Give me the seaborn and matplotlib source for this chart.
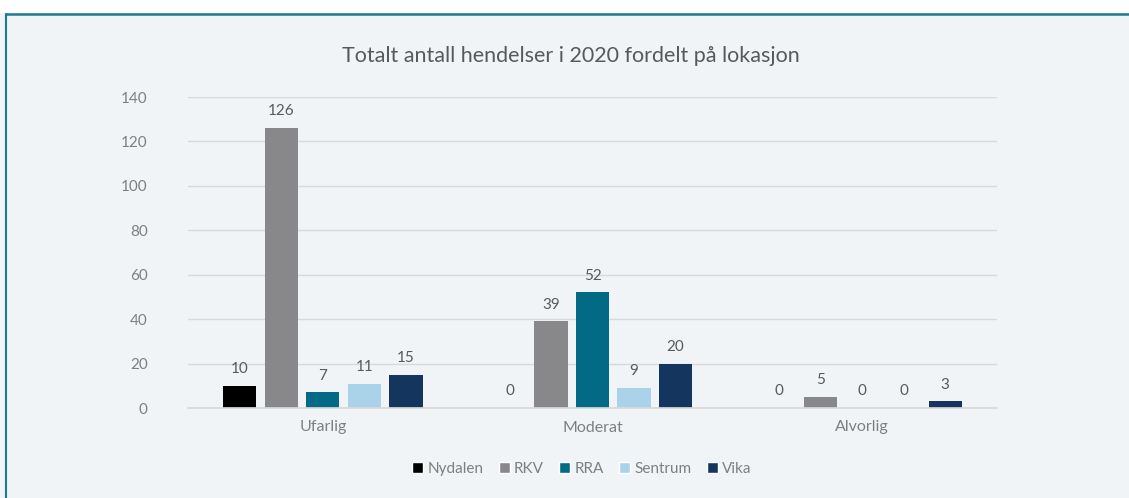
import numpy as np
import pandas as pd
import matplotlib
matplotlib.use("Agg")
import matplotlib.pyplot as plt
import seaborn as sns
from matplotlib.patches import Rectangle
from matplotlib.lines import Line2D

# data
categories = ["Ufarlig", "Moderat", "Alvorlig"]
locations = ["Nydalen", "RKV", "RRA", "Sentrum", "Vika"]
nydalen = [10, 0, 0]
rkv = [126, 39, 5]
rra = [7, 52, 0]
sentrum = [11, 9, 0]
vika = [15, 20, 3]

colors = ["#000000", "#88888b", "#036a86", "#aad3ea", "#14365e"]
bg = "#f0f4f7"

df = pd.DataFrame({
    "kategori": np.repeat(categories, len(locations)).tolist(),
    "lokasjon": locations * len(categories),
    "antall": [v for i in range(len(categories))
               for v in (nydalen[i], rkv[i], rra[i], sentrum[i], vika[i])],
})

sns.set_theme(style="white")
plt.rcParams["font.family"] = ["Lato", "DejaVu Sans"]

fig = plt.figure(figsize=(11.29, 4.98), dpi=100, facecolor=bg)
ax = fig.add_axes([188 / 1129, 1 - 408 / 498, 809 / 1129, 311 / 498])
ax.set_facecolor(bg)

sns.barplot(data=df, x="kategori", y="antall", hue="lokasjon",
            order=categories, hue_order=locations, palette=colors,
            width=0.77, gap=0.2, saturation=1, linewidth=0,
            ax=ax, legend=False)

for cont in ax.containers:
    ax.bar_label(cont, padding=7, fontsize=11, color="#595959")

ax.set_ylim(0, 140)
ax.set_yticks(range(0, 141, 20))
ax.yaxis.grid(True, color="#d9d9d9", linewidth=1)
ax.set_axisbelow(True)
for s in ["top", "right", "left"]:
    ax.spines[s].set_visible(False)
ax.spines["bottom"].set_color("#d9d9d9")
ax.tick_params(axis="both", length=0, labelsize=11, labelcolor="#7f7f7f")
ax.tick_params(axis="x", labelsize=11.5, pad=9)
ax.tick_params(axis="y", pad=29)
ax.set_xlabel("")
ax.set_ylabel("")

fig.text(571 / 1129, 1 - 56 / 498, "Totalt antall hendelser i 2020 fordelt på lokasjon",
         ha="center", va="center", fontsize=15.5, color="#595959")

handles = [Rectangle((0, 0), 1, 1, facecolor=c) for c in colors]
fig.legend(handles, locations, loc="center", ncol=5,
           bbox_to_anchor=(582 / 1129, 1 - 469 / 498), frameon=False,
           fontsize=11, labelcolor="#7f7f7f", handlelength=0.7,
           handleheight=0.7, handletextpad=0.3, columnspacing=1.0)

# white strip and teal frame at the top/left edge
fig.patches.append(Rectangle((0, 1 - 13 / 498), 1, 13 / 498, transform=fig.transFigure,
                             facecolor="white", edgecolor="none"))
fig.lines.append(Line2D([6 / 1129, 1], [1 - 14 / 498, 1 - 14 / 498],
                        transform=fig.transFigure, color="#1c7a95", linewidth=1.8))
fig.lines.append(Line2D([6 / 1129, 6 / 1129], [0, 1 - 14 / 498],
                        transform=fig.transFigure, color="#1c7a95", linewidth=1.5))

fig.savefig("out.png", dpi=100, facecolor=bg)
